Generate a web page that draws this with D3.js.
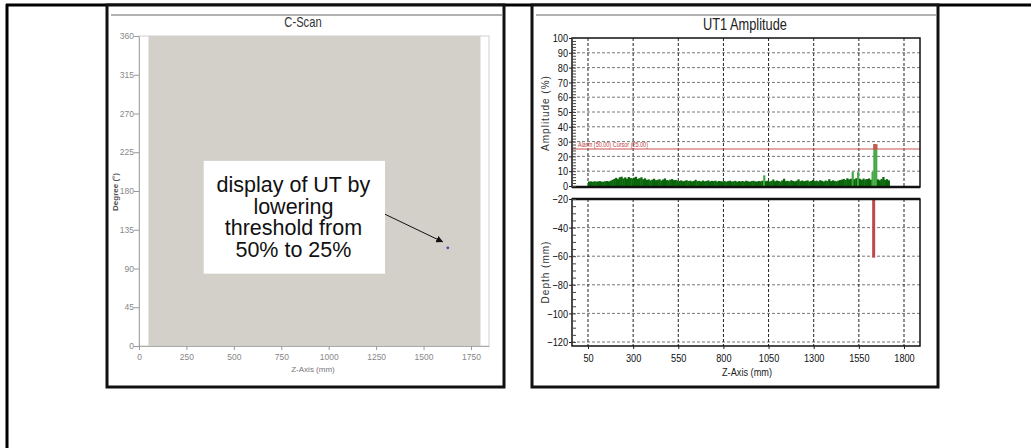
<!DOCTYPE html>
<html>
<head>
<meta charset="utf-8">
<script src="https://cdn.jsdelivr.net/npm/d3@7"></script>
<style>
  body { margin: 0; background: #fff; }
  svg { display: block; font-family: "Liberation Sans", Arial, sans-serif; }
</style>
</head>
<body>
<svg id="chart" width="1031" height="448"></svg>
<script>
// C-Scan panel
let cscanXTicks = [0, 250, 500, 750, 1000, 1250, 1500, 1750];
let cscanYTicks = [0, 45, 90, 135, 180, 225, 270, 315, 360];
let scannedRange = [50, 1800];          // mm covered by the scan (grey area)
let indication = { z: 1628, deg: 114 }; // the single UT point
let noteLines = ["display of UT by", "lowering", "threshold from", "50% to 25%"];

// UT1 amplitude panel
let zTicks = [50, 300, 550, 800, 1050, 1300, 1550, 1800];
let ampTicks = [0, 10, 20, 30, 40, 50, 60, 70, 80, 90, 100];
let depthTicks = [-20, -40, -60, -80, -100, -120];
let alarmLevel = 25;
let alarmLabel = "Alarm (50.00) Cursor (25.00)";
let ampStart = 50, ampStep = 10;  // amplitude samples every 10 mm from 50 mm
let ampValues = [
  3.0,3.1,2.9,3.2,3.0,3.1,3.3,2.9,3.0,3.2,3.4,3.1,3.6,
  4.2,4.8,5.5,4.6,5.9,6.3,5.1,5.8,4.9,6.1,5.4,5.0,5.7,6.2,4.8,5.3,5.9,4.6,5.2,
  4.1,4.5,3.8,4.3,4.9,3.9,4.2,4.6,3.7,4.4,5.1,4.0,3.8,4.3,4.7,3.9,4.1,3.6,
  3.4,3.8,3.2,3.5,3.9,3.3,3.6,3.1,3.4,4.2,3.3,3.5,3.0,3.7,3.2,3.4,3.8,3.1,3.5,3.3,3.6,3.0,3.4,3.2,
  3.1,3.4,2.9,3.3,3.6,3.0,3.2,3.5,2.9,3.3,3.1,3.4,3.0,3.6,3.2,2.9,3.3,3.5,3.1,3.0,3.4,3.2,3.6,
  7.2,
  3.3,3.6,3.1,3.5,4.4,3.2,3.7,3.4,3.0,3.8,4.9,3.3,3.5,3.2,3.9,3.4,3.1,3.6,4.5,3.3,
  3.7,3.2,3.5,3.8,3.1,3.4,4.1,3.3,3.6,3.2,3.9,3.5,3.0,3.7,3.4,4.6,3.3,3.8,3.5,3.2,3.6,4.0,
  4.3,4.8,4.1,5.2,4.5,4.9,
  9.6,4.6,5.3,9.4,
  4.8,4.2,5.0,4.4,4.7,5.1,4.3,
  9.6,28.4,28.2,
  4.5,3.9,4.8,6.1,4.2,4.6,3.8
];
let depthIndication = { z: 1632, top: -20, bottom: -61 };

let svg = d3.select("#chart");
let squeeze = 0.8; // the source software uses a narrow face

// page frame and the two panel frames
svg.append("line").attr("x1", 6).attr("x2", 1031).attr("y1", 5).attr("y2", 5)
  .attr("stroke", "#000").attr("stroke-width", 3);
svg.append("line").attr("x1", 7).attr("x2", 7).attr("y1", 4).attr("y2", 448)
  .attr("stroke", "#000").attr("stroke-width", 3);

function panel(x0, x1) {
  svg.append("rect").attr("x", x0).attr("y", 5).attr("width", x1 - x0).attr("height", 382)
    .attr("fill", "#fff").attr("stroke", "#111").attr("stroke-width", 3);
  svg.append("line").attr("x1", x0 + 4).attr("x2", x1 - 2).attr("y1", 15).attr("y2", 15)
    .attr("stroke", "#999").attr("stroke-width", 1.5);
}
panel(107, 504);
panel(532, 938);

// narrow text helper: squeeze horizontally around its own x
function narrowText(x, y, str, size, anchor) {
  return svg.append("text")
    .attr("transform", "translate(" + x + "," + y + ") scale(" + squeeze + ",1)")
    .attr("text-anchor", anchor || "middle").attr("font-size", size).text(str);
}

// ---------------- C-Scan ----------------
let cx = d3.scaleLinear().domain([0, 1845]).range([139, 489]);
let cy = d3.scaleLinear().domain([0, 360]).range([346, 36]);

narrowText(303, 27, "C-Scan", 14).attr("fill", "#333");

svg.append("rect")
  .attr("x", cx(scannedRange[0])).attr("y", cy(360))
  .attr("width", cx(scannedRange[1]) - cx(scannedRange[0]))
  .attr("height", cy(0) - cy(360))
  .attr("fill", "#d3cfc9");

svg.append("rect").attr("x", cx(0)).attr("y", cy(360))
  .attr("width", cx(1845) - cx(0)).attr("height", cy(0) - cy(360))
  .attr("fill", "none").attr("stroke", "#cfcfcf");

let cAxisY = svg.append("g").attr("transform", "translate(" + cx(0) + ",0)")
  .call(d3.axisLeft(cy).tickValues(cscanYTicks).tickSize(5).tickSizeOuter(0));
let cAxisX = svg.append("g").attr("transform", "translate(0," + cy(0) + ")")
  .call(d3.axisBottom(cx).tickValues(cscanXTicks).tickFormat(d3.format("d")).tickSize(4).tickSizeOuter(0));
[cAxisY, cAxisX].forEach(function (g) {
  g.select(".domain").attr("stroke", "#aaa");
  g.selectAll(".tick line").attr("stroke", "#999");
  g.selectAll(".tick text").attr("fill", "#888").attr("font-size", 8.5)
    .attr("font-family", "'Liberation Sans', Arial, sans-serif");
});
cAxisY.selectAll(".tick text").attr("x", -5);
cAxisX.selectAll(".tick text").attr("y", 8);

svg.append("text").attr("x", 313).attr("y", 372).attr("text-anchor", "middle")
  .attr("font-size", 8).attr("fill", "#777").text("Z-Axis (mm)");
svg.append("text").attr("transform", "translate(118,192) rotate(-90)")
  .attr("text-anchor", "middle").attr("font-size", 8).attr("font-weight", "bold")
  .attr("fill", "#555").text("Degree (°)");

// note box with arrow to the indication
svg.append("defs").append("marker").attr("id", "head")
  .attr("viewBox", "0 0 10 10").attr("refX", 9).attr("refY", 5)
  .attr("markerWidth", 7).attr("markerHeight", 7).attr("orient", "auto")
  .append("path").attr("d", "M0,0 L10,5 L0,10 Z").attr("fill", "#111");

svg.append("rect").attr("x", cx(341)).attr("y", cy(215))
  .attr("width", cx(1297) - cx(341)).attr("height", cy(84) - cy(215))
  .attr("fill", "#fff");
svg.append("g").selectAll("text").data(noteLines).enter().append("text")
  .attr("x", cx(814)).attr("y", function (d, i) { return cy(215) + 31 + i * 21.7; })
  .attr("text-anchor", "middle").attr("font-size", 21.5).attr("fill", "#111")
  .text(function (d) { return d; });
svg.append("line").attr("x1", cx(1297)).attr("y1", cy(153))
  .attr("x2", cx(1600)).attr("y2", cy(121))
  .attr("stroke", "#111").attr("stroke-width", 1).attr("marker-end", "url(#head)");
svg.append("circle").attr("cx", cx(indication.z)).attr("cy", cy(indication.deg))
  .attr("r", 1.4).attr("fill", "#4a4aa8");

// ---------------- UT1 Amplitude ----------------
let zx = d3.scaleLinear().domain([-38.6, 1888.6]).range([572, 920]);
let ay = d3.scaleLinear().domain([0, 100]).range([186, 38]);
let dy = d3.scaleLinear().domain([-20, -122.8]).range([199, 346]);

narrowText(745, 30, "UT1 Amplitude", 16).attr("fill", "#222");

function grid(yScale, yVals, top, bottom) {
  let g = svg.append("g");
  g.selectAll(".h").data(yVals).enter().append("line")
    .attr("x1", zx.range()[0]).attr("x2", zx.range()[1])
    .attr("y1", function (d) { return yScale(d); }).attr("y2", function (d) { return yScale(d); })
    .attr("stroke", "#777").attr("stroke-dasharray", "3,2");
  g.selectAll(".v").data(zTicks).enter().append("line")
    .attr("x1", function (d) { return zx(d); }).attr("x2", function (d) { return zx(d); })
    .attr("y1", top).attr("y2", bottom)
    .attr("stroke", "#222").attr("stroke-dasharray", "3,2");
}
grid(ay, ampTicks.slice(1, 10), 38, 187);
grid(dy, depthTicks.slice(1), 199, 346);

// amplitude trace
let ampData = ampValues.map(function (v, i) { return { z: ampStart + i * ampStep, v: v }; });
let bw = zx(ampStep) - zx(0);
svg.append("g").selectAll("rect").data(ampData).enter().append("rect")
  .attr("x", function (d) { return zx(d.z); }).attr("width", bw + 0.4)
  .attr("y", function (d) { return ay(d.v); })
  .attr("height", function (d) { return ay(0) - ay(d.v); })
  .attr("fill", function (d) { return d.v > 7 ? "#45a845" : "#0a660a"; });
svg.append("g").selectAll("rect").data(ampData.filter(function (d) { return d.v > alarmLevel; }))
  .enter().append("rect")
  .attr("x", function (d) { return zx(d.z); }).attr("width", bw + 0.4)
  .attr("y", function (d) { return ay(d.v); })
  .attr("height", function (d) { return ay(alarmLevel) - ay(d.v); })
  .attr("fill", "#d05555");

// alarm line
svg.append("line").attr("x1", 572).attr("x2", 920)
  .attr("y1", ay(alarmLevel)).attr("y2", ay(alarmLevel))
  .attr("stroke", "#c85050").attr("stroke-width", 1);
svg.append("text").attr("x", 578).attr("y", ay(alarmLevel) - 2)
  .attr("font-size", 7).attr("fill", "#c04040")
  .attr("textLength", 70).attr("lengthAdjust", "spacingAndGlyphs").text(alarmLabel);

// depth indication
svg.append("rect").attr("x", zx(depthIndication.z) - 1.5).attr("width", 3)
  .attr("y", dy(depthIndication.top))
  .attr("height", dy(depthIndication.bottom) - dy(depthIndication.top))
  .attr("fill", "#c04848");

// plot boxes
svg.append("rect").attr("x", 572).attr("y", 38).attr("width", 348).attr("height", 149)
  .attr("fill", "none").attr("stroke", "#111").attr("stroke-width", 1.5);
svg.append("rect").attr("x", 572).attr("y", 199).attr("width", 348).attr("height", 147)
  .attr("fill", "none").attr("stroke", "#111").attr("stroke-width", 1.5);
svg.append("line").attr("x1", 572).attr("x2", 920).attr("y1", 187).attr("y2", 187)
  .attr("stroke", "#111").attr("stroke-width", 2.5);
svg.append("line").attr("x1", 572).attr("x2", 920).attr("y1", 199).attr("y2", 199)
  .attr("stroke", "#111").attr("stroke-width", 2.5);

// axes
let minorAmp = d3.range(0, 101, 2);
let minorDepth = d3.range(-20, -123, -5);
svg.append("g").attr("transform", "translate(572,0)")
  .call(d3.axisRight(ay).tickValues(minorAmp).tickSize(4).tickFormat(""))
  .call(function (g) { g.select(".domain").remove(); g.selectAll("line").attr("stroke", "#444"); });
svg.append("g").attr("transform", "translate(572,0)")
  .call(d3.axisRight(dy).tickValues(minorDepth).tickSize(4).tickFormat(""))
  .call(function (g) { g.select(".domain").remove(); g.selectAll("line").attr("stroke", "#444"); });

let aAxis = svg.append("g").attr("transform", "translate(572,0)")
  .call(d3.axisLeft(ay).tickValues(ampTicks).tickSize(3).tickSizeOuter(0));
let dAxis = svg.append("g").attr("transform", "translate(572,0)")
  .call(d3.axisLeft(dy).tickValues(depthTicks).tickSize(3).tickSizeOuter(0));
let zAxis = svg.append("g").attr("transform", "translate(0,346)")
  .call(d3.axisBottom(zx).tickValues(zTicks).tickFormat(d3.format("d")).tickSize(3).tickSizeOuter(0));
[aAxis, dAxis, zAxis].forEach(function (g) {
  g.select(".domain").remove();
  g.selectAll(".tick line").attr("stroke", "#222");
  g.selectAll(".tick text").attr("fill", "#111").attr("font-size", 11.5)
    .attr("font-family", "'Liberation Sans', Arial, sans-serif");
});
// squeeze tick labels like the narrow face of the original
[aAxis, dAxis].forEach(function (g) {
  g.selectAll(".tick text").attr("x", -4 / squeeze).attr("transform", "scale(" + squeeze + ",1)");
});
zAxis.selectAll(".tick text").attr("y", 8).attr("transform", "scale(" + squeeze + ",1)");

narrowText(747, 376, "Z-Axis (mm)", 11.5).attr("fill", "#222");
svg.append("text").attr("transform", "translate(549,113) rotate(-90)")
  .attr("text-anchor", "middle").attr("font-size", 10).attr("letter-spacing", 1)
  .attr("fill", "#333").text("Amplitude (%)");
svg.append("text").attr("transform", "translate(549,272) rotate(-90)")
  .attr("text-anchor", "middle").attr("font-size", 10).attr("letter-spacing", 1)
  .attr("fill", "#333").text("Depth (mm)");
</script>
</body>
</html>
